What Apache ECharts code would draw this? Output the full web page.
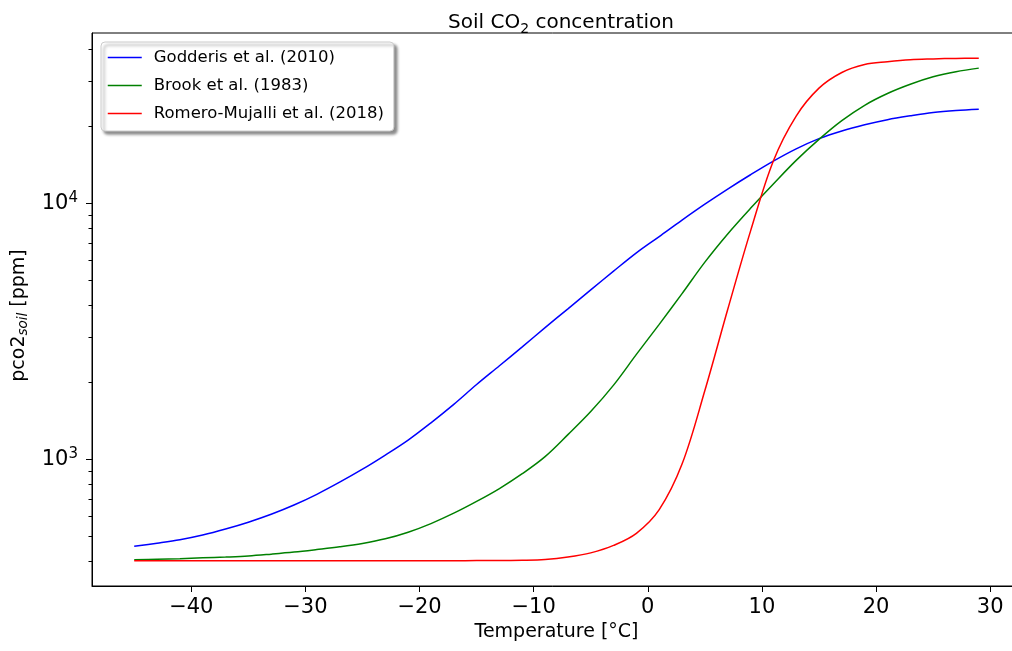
<!DOCTYPE html>
<html>
<head>
<meta charset="utf-8">
<script src="https://cdn.jsdelivr.net/npm/echarts@6/dist/echarts.min.js"></script>
<style>
  html, body { margin: 0; padding: 0; background: #ffffff; }
  #chart { width: 1012px; height: 651px; }
</style>
</head>
<body>
<div id="chart"></div>
<script>
// Soil temperature [°C]
const temperature = [-45, -43, -41, -39, -37, -35, -33, -31, -29, -27, -25, -23, -21,
  -19, -17, -15, -13, -11, -9, -7, -5, -3, -1, 1, 3, 5, 7, 9, 11, 13, 15, 17, 19,
  21, 23, 25, 27, 29];

// Soil pCO2 [ppm] for each parameterisation
const godderis = [458, 471, 486, 507, 535, 569, 611, 664, 731, 815, 916, 1040, 1190,
  1390, 1640, 1960, 2320, 2750, 3270, 3870, 4590, 5430, 6400, 7410, 8590, 9910, 11350,
  12910, 14590, 16290, 17860, 19140, 20230, 21180, 21930, 22590, 23010, 23280];
const brook = [406, 408, 410, 413, 416, 420, 427, 435, 445, 456, 470, 490, 520,
  562, 617, 686, 770, 880, 1026, 1250, 1538, 1950, 2570, 3365, 4436, 5888, 7586,
  9550, 11885, 14690, 17740, 20990, 24100, 26790, 29110, 31120, 32590, 33650];
const romero = [402, 402, 402, 402, 402, 402, 402, 402, 402, 402, 402, 402, 402,
  402, 402, 403, 403, 404, 407, 416, 432, 462, 515, 637, 959, 1858, 3846,
  7780, 14620, 21880, 28120, 32360, 34750, 35650, 36310, 36560, 36730, 36810];

const seriesNames = ['Godderis et al. (2010)', 'Brook et al. (1983)', 'Romero-Mujalli et al. (2018)'];
const seriesColors = ['#0000ff', '#008000', '#ff0000'];

const xTicks = [-40, -30, -20, -10, 0, 10, 20, 30];
const yMajorTicks = [1000, 10000];
const yMinorTicks = [400, 500, 600, 700, 800, 900,
  2000, 3000, 4000, 5000, 6000, 7000, 8000, 9000,
  20000, 30000, 40000];

const FONT = 'DejaVu Sans';

// The y axis is logarithmic: values are placed by their base-10 exponent.
const lg = v => Math.log10(v);
const toPairs = vals => temperature.map((t, i) => [t, lg(vals[i])]);

// Axis limits with a 5% margin around the data
const allLogs = [].concat(godderis, brook, romero).map(lg);
const yLo = Math.min(...allLogs), yHi = Math.max(...allLogs);
const yPad = (yHi - yLo) * 0.05;
const xLo = Math.min(...temperature), xHi = Math.max(...temperature);
const xPad = (xHi - xLo) * 0.05;

const minusFmt = v => (v < 0 ? '\u2212' + Math.abs(v) : String(v));

const chart = echarts.init(document.getElementById('chart'), null, { renderer: 'canvas' });

chart.setOption({
  animation: false,
  backgroundColor: '#ffffff',
  textStyle: { fontFamily: FONT },
  title: {
    text: '{a|Soil CO}{s|2}{a| concentration}',
    left: 556,
    top: 5,
    textAlign: 'center',
    textStyle: {
      fontWeight: 'normal',
      rich: {
        a: { fontFamily: FONT, fontSize: 20, fontWeight: 'normal', color: '#000', lineHeight: 26 },
        s: { fontFamily: FONT, fontSize: 14, fontWeight: 'normal', color: '#000', lineHeight: 14, verticalAlign: 'bottom' }
      }
    }
  },
  legend: {
    orient: 'vertical',
    left: 101,
    top: 42,
    padding: [7, 10, 9, 6],
    itemWidth: 34,
    itemHeight: 14,
    itemGap: 11,
    backgroundColor: '#ffffff',
    borderColor: '#cccccc',
    borderWidth: 1,
    borderRadius: 4,
    shadowColor: 'rgba(0,0,0,0.45)',
    shadowBlur: 3,
    shadowOffsetX: 3,
    shadowOffsetY: 3,
    itemStyle: { opacity: 0 },
    lineStyle: { width: 1.5 },
    textStyle: { fontFamily: FONT, fontSize: 16.5, color: '#000', padding: [0, 0, 0, 7] },
    data: seriesNames
  },
  grid: {
    left: 92,
    right: -9,
    top: 33,
    bottom: 65,
    show: true,
    borderColor: '#000',
    borderWidth: 1,
    containLabel: false,
    outerBoundsMode: 'none'
  },
  xAxis: {
    type: 'value',
    min: xLo - xPad,
    max: xHi + xPad,
    splitLine: { show: false },
    axisLine: { show: true, onZero: false, lineStyle: { color: '#000', width: 1 } },
    axisTick: { customValues: xTicks, length: 6, lineStyle: { color: '#000', width: 1 } },
    axisLabel: {
      customValues: xTicks,
      formatter: minusFmt,
      fontFamily: FONT,
      fontSize: 21,
      color: '#000',
      margin: 11
    },
    name: 'Temperature [°C]',
    nameLocation: 'middle',
    nameGap: 37,
    nameTextStyle: { fontFamily: FONT, fontSize: 19, color: '#000' }
  },
  yAxis: [
    {
      type: 'value',
      min: yLo - yPad,
      max: yHi + yPad,
      position: 'left',
      splitLine: { show: false },
      axisLine: { show: true, onZero: false, lineStyle: { color: '#000', width: 1 } },
      axisTick: { customValues: yMajorTicks.map(lg), length: 6, lineStyle: { color: '#000', width: 1 } },
      axisLabel: {
        customValues: yMajorTicks.map(lg),
        formatter: v => '{b|10}{p|' + Math.round(v) + '}',
        margin: 14,
        rich: {
          b: { fontFamily: FONT, fontSize: 21, color: '#000', lineHeight: 26 },
          p: { fontFamily: FONT, fontSize: 15, color: '#000', lineHeight: 14, verticalAlign: 'top' }
        }
      },
      name: '{a|pco2}{s|soil}{a| [ppm]}',
      nameLocation: 'middle',
      nameRotate: 90,
      nameGap: 60,
      nameTextStyle: {
        padding: [0, 12, 0, 0],
        rich: {
          a: { fontFamily: FONT, fontSize: 19, color: '#000', lineHeight: 24 },
          s: { fontFamily: FONT, fontSize: 13.5, fontStyle: 'italic', color: '#000', lineHeight: 13, verticalAlign: 'bottom' }
        }
      }
    },
    {
      // minor ticks of the logarithmic axis
      type: 'value',
      min: yLo - yPad,
      max: yHi + yPad,
      position: 'left',
      splitLine: { show: false },
      axisLine: { show: false, onZero: false },
      axisTick: { show: true, customValues: yMinorTicks.map(lg), length: 3.5, lineStyle: { color: '#000', width: 1 } },
      axisLabel: { show: false }
    }
  ],
  series: [godderis, brook, romero].map((vals, i) => ({
    name: seriesNames[i],
    type: 'line',
    yAxisIndex: 0,
    data: toPairs(vals),
    symbol: 'none',
    smooth: 0.35,
    lineStyle: { color: seriesColors[i], width: 1.5 },
    itemStyle: { color: seriesColors[i] }
  }))
});
</script>
</body>
</html>
